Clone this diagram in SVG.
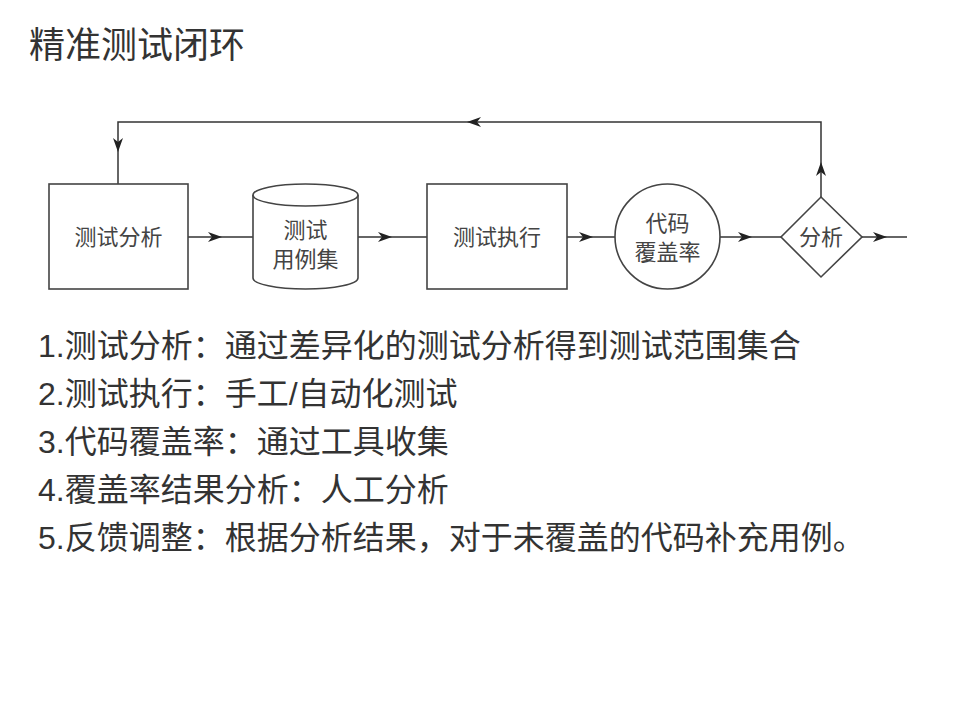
<svg xmlns="http://www.w3.org/2000/svg" width="960" height="720" viewBox="0 0 960 720">
<defs>
<marker id="arr" markerUnits="userSpaceOnUse" viewBox="0 0 14 10" refX="14" refY="5" markerWidth="14" markerHeight="10" orient="auto">
<path d="M0,0 L14,5 L0,10 L4,5 Z" fill="#222"/>
</marker>
</defs>
<style>
.shape{fill:#fff;stroke:#444;stroke-width:1.6}
.conn{fill:none;stroke:#333;stroke-width:1.5}
.lbl{font-family:"Liberation Sans","Noto Sans CJK SC",sans-serif;font-size:22px;fill:#444;text-anchor:middle}
.title{font-family:"Liberation Sans","Noto Sans CJK SC",sans-serif;font-size:36px;fill:#333}
.item{font-family:"Liberation Sans","Noto Sans CJK SC",sans-serif;font-size:32px;fill:#333}
</style>
<rect width="960" height="720" fill="#fff"/>
<text class="title" x="29" y="58">精准测试闭环</text>

<g id="connectors">
<path class="conn" d="M188,237 H222" marker-end="url(#arr)"/>
<path class="conn" d="M222,237 H253"/>
<path class="conn" d="M358,237 H392" marker-end="url(#arr)"/>
<path class="conn" d="M392,237 H427"/>
<path class="conn" d="M567,237 H593" marker-end="url(#arr)"/>
<path class="conn" d="M593,237 H615"/>
<path class="conn" d="M720,237 H752" marker-end="url(#arr)"/>
<path class="conn" d="M752,237 H781"/>
<path class="conn" d="M862,237 H887" marker-end="url(#arr)"/>
<path class="conn" d="M887,237 H907"/>
<path class="conn" d="M821,197 V162" marker-end="url(#arr)"/>
<path class="conn" d="M821,162 V122 H467" marker-end="url(#arr)"/>
<path class="conn" d="M467,122 H118 V152" marker-end="url(#arr)"/>
<path class="conn" d="M118,152 V184"/>
</g>

<g id="node-analysis">
<rect class="shape" x="49" y="184" width="139" height="105"/>
<text class="lbl" x="118.5" y="245">测试分析</text>
</g>

<g id="node-cases">
<path class="shape" d="M253,195 A52.5,11 0 0 1 358,195 V278 A52.5,11 0 0 1 253,278 Z"/>
<path class="shape" d="M253,195 A52.5,11 0 0 0 358,195" fill="none"/>
<text class="lbl" x="305.5" y="238">测试</text>
<text class="lbl" x="305.5" y="267">用例集</text>
</g>

<g id="node-exec">
<rect class="shape" x="427" y="184" width="140" height="105"/>
<text class="lbl" x="497" y="245">测试执行</text>
</g>

<g id="node-coverage">
<circle class="shape" cx="667.5" cy="236.5" r="52.5"/>
<text class="lbl" x="667.5" y="231">代码</text>
<text class="lbl" x="667.5" y="260">覆盖率</text>
</g>

<g id="node-decision">
<path class="shape" d="M821,197 L862,237 L821,277 L781,237 Z"/>
<text class="lbl" x="821" y="245">分析</text>
</g>

<g id="list">
<text class="item" x="38" y="357">1.测试分析：通过差异化的测试分析得到测试范围集合</text>
<text class="item" x="38" y="405">2.测试执行：手工/自动化测试</text>
<text class="item" x="38" y="453">3.代码覆盖率：通过工具收集</text>
<text class="item" x="38" y="501">4.覆盖率结果分析：人工分析</text>
<text class="item" x="38" y="549">5.反馈调整：根据分析结果，对于未覆盖的代码补充用例。</text>
</g>
</svg>
